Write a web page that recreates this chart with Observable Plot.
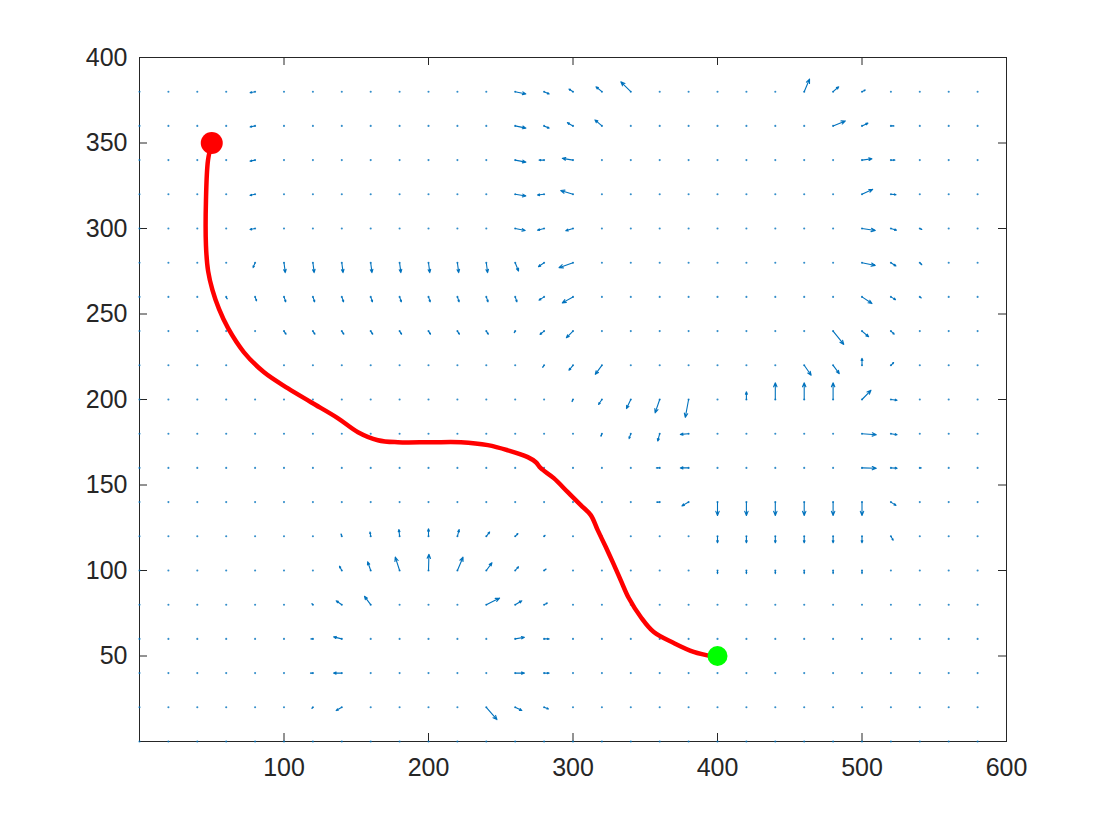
<!DOCTYPE html>
<html><head><meta charset="utf-8">
<script src="https://cdn.jsdelivr.net/npm/d3@7"></script>
<script src="https://cdn.jsdelivr.net/npm/@observablehq/plot@0.6"></script>
<style>html,body{margin:0;padding:0;background:#fff;} #chart svg{display:block}</style>
</head><body><div id="chart"></div>
<script>
// quiver grid
const gridX = [0,20,40,60,80,100,120,140,160,180,200,220,240,260,280,300,320,340,360,380,400,420,440,460,480,500,520,540,560,580];
const gridY = [0,20,40,60,80,100,120,140,160,180,200,220,240,260,280,300,320,340,360,380];
const xTicks = [100,200,300,400,500,600];
const yTicks = [50,100,150,200,250,300,350,400];

// visible field vectors: [x, y, u, v] in data units
const vectors = [
  [80,380,-3.5,-0.6],[80,360,-3.5,-0.6],[80,340,-3.5,-0.6],[80,320,-3.5,-0.6],[80,300,-3.5,-0.6],
  [80,280,-1.4,-2.9],
  [100,280,0.9,-5.8],[120,280,0.9,-5.8],[140,280,0.9,-5.8],[160,280,0.9,-5.8],[180,280,0.9,-5.8],
  [200,280,0.9,-5.8],[220,280,0.9,-5.8],[240,280,0.9,-5.8],
  [260,280,2.3,-4.9],[280,280,-3.9,-2.3],[300,280,-9.7,-2.9],
  [260,380,7.4,-1.3],[260,360,7.4,-1.3],[260,340,7.4,-1.2],[260,320,7.4,-1.0],[260,300,6.9,-1.2],
  [280,380,3.5,-1.3],[280,360,3.5,-1.3],[280,340,-3.5,0],[280,320,-4.6,-0.4],[280,300,-4.6,-1.0],
  [300,380,-2.8,1.6],[300,360,-3.9,1.9],[300,340,-7.4,1.0],[300,320,-8.5,2.2],[300,300,-5.0,-1.3],
  [320,380,-4.1,2.9],[320,360,-4.8,3.5],[340,380,-6.9,5.8],
  [460,380,3.7,7.4],[480,380,3.9,2.9],[500,380,2.3,1.0],
  [480,360,8.5,2.9],[500,360,4.1,1.6],[520,360,2.1,0],
  [500,340,6.9,0.8],[520,340,2.8,0],
  [500,320,7.4,2.9],[520,320,3.5,-0.2],
  [500,300,9.2,-1.2],[520,300,3.9,-1.0],[540,300,1.4,-0.6],
  [500,280,9.2,-1.6],[520,280,3.5,-1.9],[540,280,1.4,-1.2],
  [60,260,0.7,-1.2],[80,260,1.0,-2.3],
  [100,260,1.2,-2.9],[120,260,1.2,-2.9],[140,260,1.2,-2.9],[160,260,1.2,-2.9],[180,260,1.2,-2.9],
  [200,260,1.2,-2.9],[220,260,1.2,-2.9],[240,260,1.2,-2.9],[260,260,1.2,-2.9],
  [100,240,1.4,-1.8],[120,240,1.4,-1.8],[140,240,1.4,-1.8],[160,240,1.4,-1.8],[180,240,1.4,-1.8],
  [200,240,1.4,-1.8],[220,240,1.4,-1.8],[240,240,1.4,-1.8],[260,240,-0.7,-0.9],
  [280,260,-3.5,-1.9],[300,260,-7.4,-3.5],
  [280,240,-2.8,-1.9],[300,240,-4.6,-3.9],
  [280,220,-1.0,-1.2],[300,220,-2.8,-2.9],[320,220,-4.6,-5.3],
  [300,200,-0.7,-1.2],[320,200,-2.3,-2.9],[340,200,-3.0,-5.3],[360,200,-3.2,-7.8],[380,200,-2.3,-10.5],
  [320,180,-0.7,-1.5],[340,180,-1.2,-2.9],[360,180,-1.4,-4.3],[380,180,-5.7,-0.4],
  [360,160,-2.3,0],[380,160,-5.7,0],
  [360,140,-2.1,0],[380,140,-4.6,-2.2],
  [400,140,0,-7.8],[420,140,0,-7.8],[440,140,0,-7.8],[460,140,0,-7.8],[480,140,0,-7.8],[500,140,0,-7.8],
  [500,260,6.9,-3.9],[520,260,3.2,-1.6],[540,260,1.0,-0.6],
  [480,240,7.4,-7.8],[500,240,4.6,-3.3],[520,240,2.3,-1.8],
  [460,220,4.8,-5.8],[480,220,4.3,-4.9],[500,220,0,4.1],[520,220,1.9,1.6],
  [420,200,0,4.5],[440,200,0,9.8],[460,200,0,9.8],[480,200,0,9.8],[500,200,6.2,5.4],[520,200,4.3,-0.4],
  [500,180,9.9,-0.6],[520,180,4.3,-0.6],
  [500,160,9.9,-0.2],[520,160,4.3,-0.2],[540,160,1.0,0],
  [520,140,3.5,-1.9],
  [400,120,0,-3.8],[420,120,0,-3.8],[440,120,0,-3.8],[460,120,0,-3.8],[480,120,0,-3.8],[500,120,0,-3.8],
  [520,120,1.6,-2.3],
  [400,100,0,-1.8],[420,100,0,-1.8],[440,100,0,-1.8],[460,100,0,-1.8],[480,100,0,-1.8],[500,100,0,-1.8],
  [140,120,-0.5,1.3],[160,120,-0.5,2.5],[180,120,-0.5,3.9],[200,120,0,4.4],
  [140,100,-1.6,2.5],[160,100,-2.1,5.1],[180,100,-3.0,7.8],[200,100,0.3,9.5],
  [120,80,-0.7,0.6],[140,80,-3.9,2.3],[160,80,-4.3,4.9],
  [120,60,-1.4,0],[140,60,-5.7,1.2],
  [120,40,-1.7,0],[140,40,-5.7,0],
  [120,20,-0.7,-0.6],[140,20,-3.9,-1.9],
  [220,120,1.2,3.9],[240,120,2.3,2.5],[260,120,1.9,1.6],[280,120,0.7,0.6],
  [220,100,3.9,7.8],[240,100,3.9,4.5],[260,100,2.3,2.2],[280,100,1.4,0.9],
  [240,80,9.2,3.9],[260,80,4.6,2.3],[280,80,2.3,1.0],
  [260,60,6.4,1.0],[280,60,3.5,0],
  [260,40,6.4,0],[280,40,3.5,0],
  [240,20,7.4,-7.2],[260,20,4.6,-1.9],[280,20,3.0,-1.0]
];

// planned path
const pathX = [50,47.4,46.0,46.0,47.5,50.5,55.0,61.3,72.3,86.2,102.8,118.7,137.4,151.2,165.0,178.8,201.6,222.4,241.1,254.9,268.7,274.3,277.7,286.7,296.4,305.4,312.3,317.1,322.7,327.5,333.0,338.6,346.9,355.9,369.7,383.5,397.3];
const pathY = [350,339.9,316.5,290.0,275.0,264.0,253.0,241.7,227.6,215.9,206.5,198.4,189.0,180.9,176.2,175.0,175.0,175.0,173.3,170.3,166.3,163.3,159.8,154.0,145.8,138.2,132.4,123.6,113.7,104.9,94.4,83.9,72.8,64.0,57.6,52.4,49.6];
const startPoint = [50,350];
const goalPoint = [400,50];

const grid = gridY.flatMap(y => gridX.map(x => ({x, y})));
const arrows = vectors.map(([x, y, u, v]) => ({x1: x, y1: y, x2: x + u, y2: y + v}));
const path = pathX.map((x, i) => ({x, y: pathY[i]}));

const W = 1101, H = 825, mL = 139, mR = 95, mT = 57, mB = 84;
const innerW = W - mL - mR, innerH = H - mT - mB;
const axisColor = "#262626";

const chart = Plot.plot({
  width: W, height: H,
  marginLeft: mL, marginRight: mR, marginTop: mT, marginBottom: mB,
  x: {domain: [0, 600]},
  y: {domain: [0, 400]},
  style: {fontFamily: "'Liberation Sans', Arial, Helvetica, sans-serif", fontSize: "25px", color: axisColor, background: "#fff"},
  marks: [
    Plot.frame({stroke: axisColor, strokeWidth: 1}),
    Plot.tickX(xTicks, {x: d => d, insetTop: innerH - 8, stroke: axisColor}),
    Plot.tickX(xTicks, {x: d => d, insetBottom: innerH - 8, stroke: axisColor}),
    Plot.tickY(yTicks, {y: d => d, insetRight: innerW - 8, stroke: axisColor}),
    Plot.tickY(yTicks, {y: d => d, insetLeft: innerW - 8, stroke: axisColor}),
    Plot.dot(grid, {x: "x", y: "y", r: 1.05, fill: "#0072BD", fillOpacity: 0.8}),
    Plot.arrow(arrows, {x1: "x1", y1: "y1", x2: "x2", y2: "y2", stroke: "#0072BD", strokeWidth: 1.1, headLength: 6, headAngle: 45}),
    Plot.line(path, {x: "x", y: "y", stroke: "#ff0000", strokeWidth: 4.5, curve: "catmull-rom", strokeLinecap: "round", strokeLinejoin: "round"}),
    Plot.dot([startPoint], {x: d => d[0], y: d => d[1], r: 11, fill: "#ff0000"}),
    Plot.dot([goalPoint], {x: d => d[0], y: d => d[1], r: 10, fill: "#00ff00"}),
    Plot.axisX({ticks: xTicks, tickSize: 0, tickPadding: 17, fontSize: 25, label: null, fill: axisColor}),
    Plot.axisY({ticks: yTicks, tickSize: 0, tickPadding: 12, fontSize: 25, label: null, fill: axisColor})
  ]
});
document.getElementById("chart").appendChild(chart);
</script>
</body></html>
